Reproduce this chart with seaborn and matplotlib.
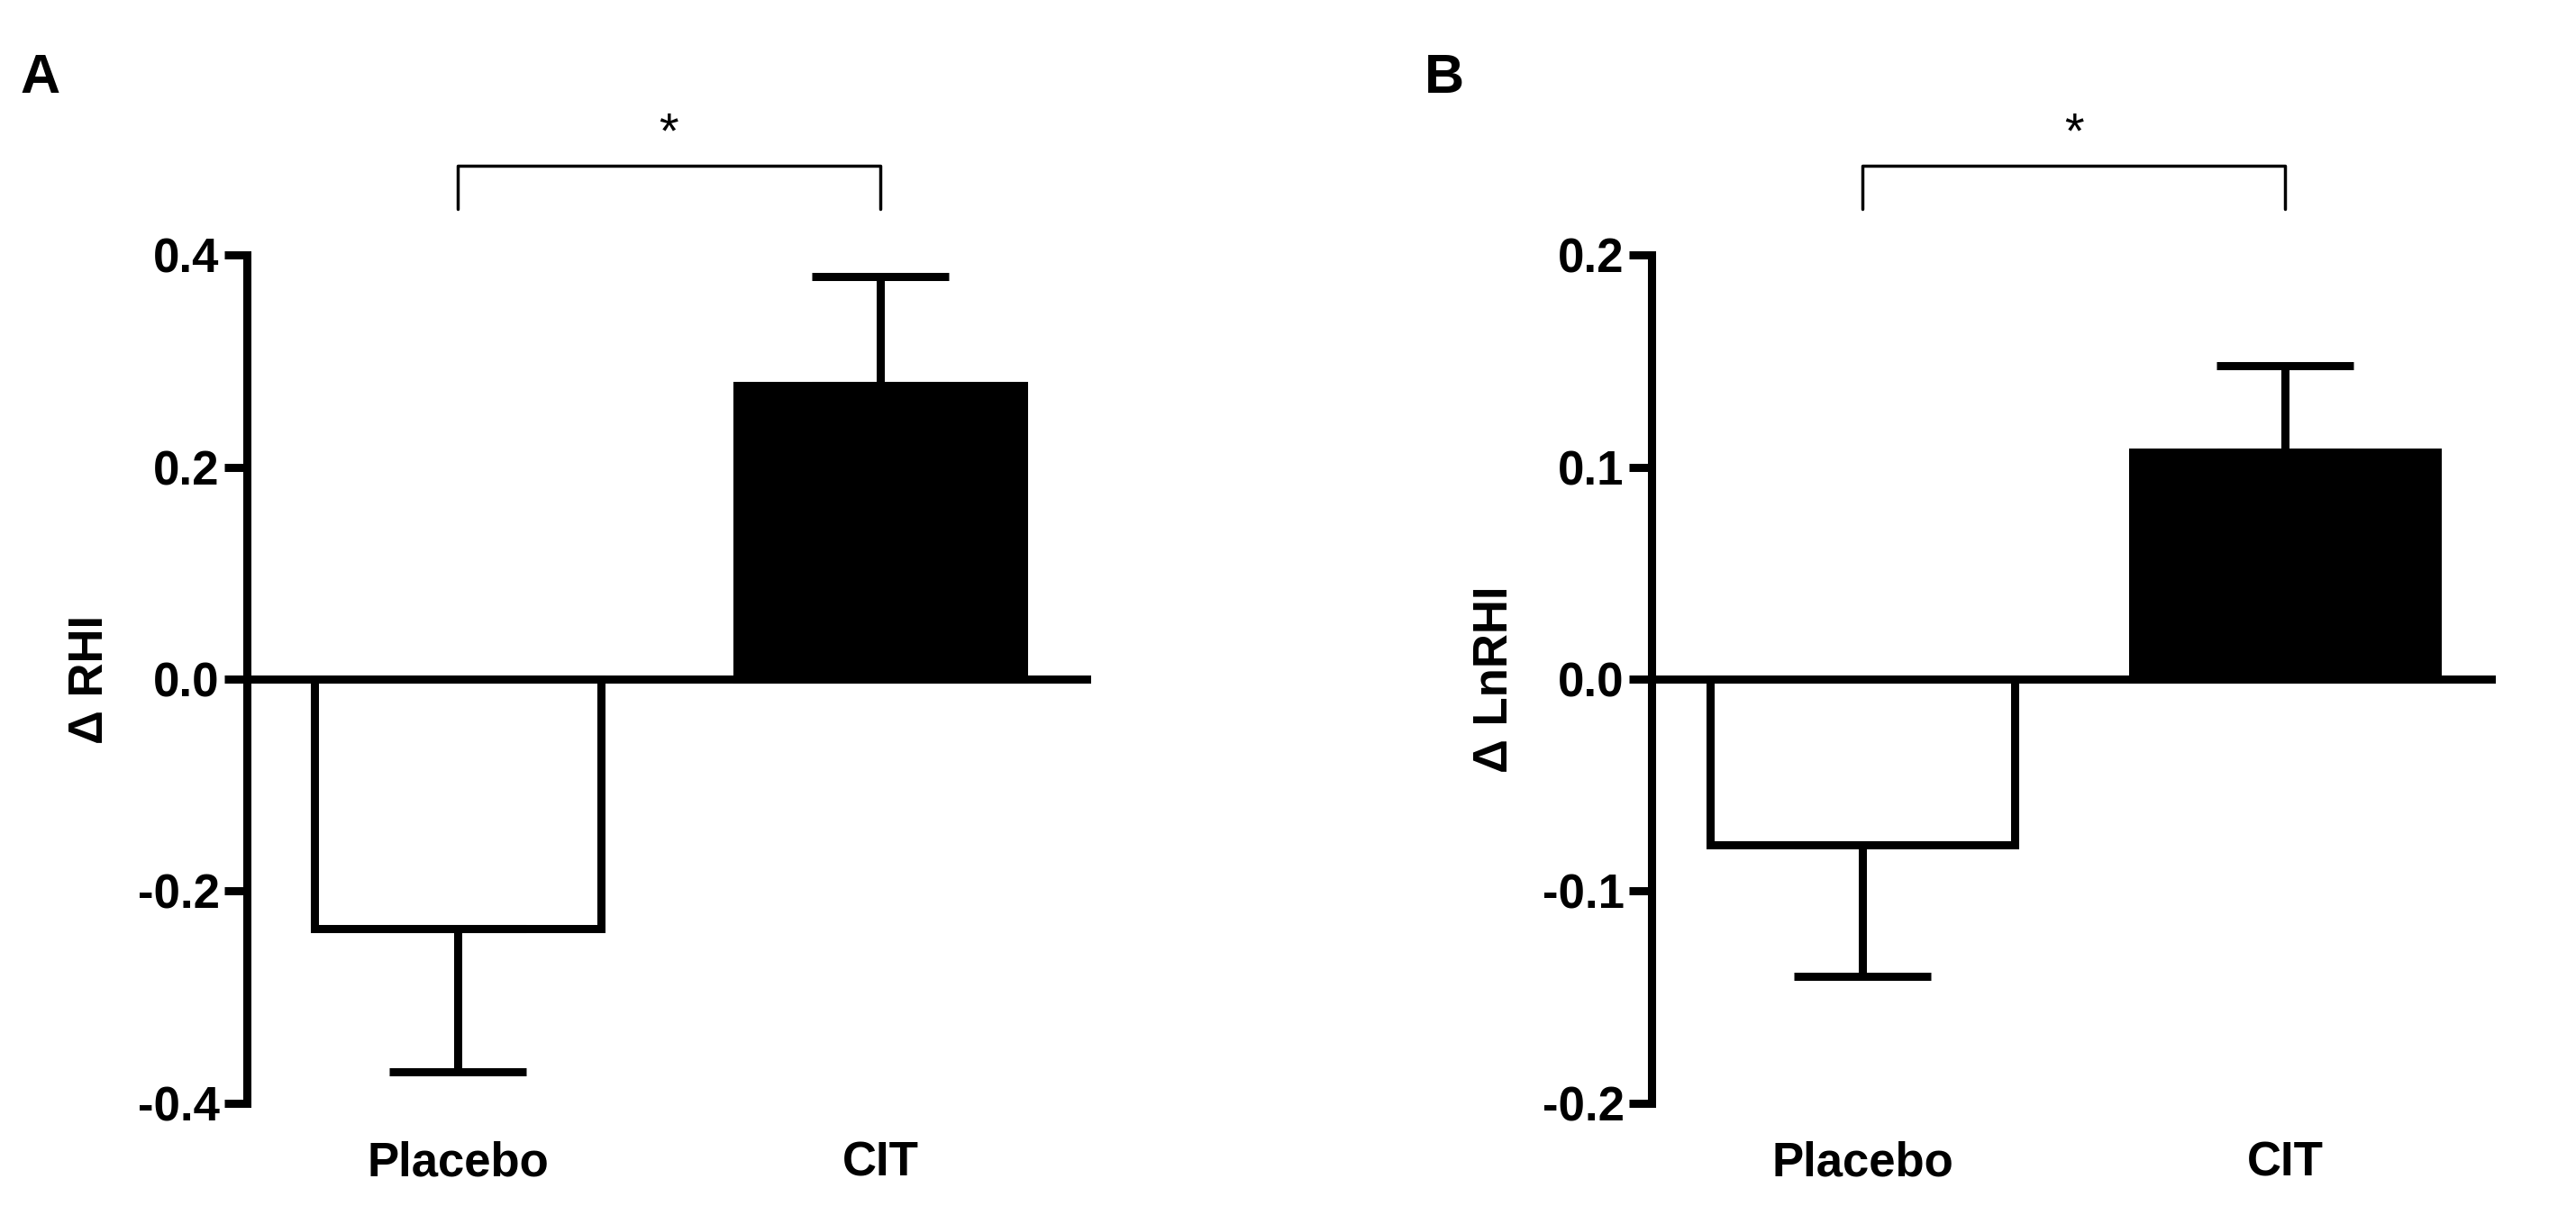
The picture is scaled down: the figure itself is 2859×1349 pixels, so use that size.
import matplotlib
matplotlib.use("Agg")
import matplotlib.pyplot as plt
import seaborn as sns
import pandas as pd

categories = ["Placebo", "CIT"]
rhi_mean = [-0.235, 0.277]
rhi_sem = [0.135, 0.103]
lnrhi_mean = [-0.078, 0.107]
lnrhi_sem = [0.062, 0.041]
panels = [("A", "Δ RHI", rhi_mean, rhi_sem, 0.4, [-0.4, -0.2, 0.0, 0.2, 0.4], 0.68),
          ("B", "Δ LnRHI", lnrhi_mean, lnrhi_sem, 0.2, [-0.2, -0.1, 0.0, 0.1, 0.2], 0.72)]

sns.set_style("ticks")
plt.rcParams['font.family'] = ['Liberation Sans', 'DejaVu Sans']
for k in ["text.color", "axes.labelcolor", "xtick.color", "ytick.color", "axes.edgecolor"]:
    plt.rcParams[k] = "black"
fig = plt.figure(figsize=(28.59, 13.49), dpi=100)
lefts = [0.0957, 0.641]
LW = 6.5
for (lab, ylab, mean, sem, lim, ticks, bw), left in zip(panels, lefts):
    ax = fig.add_axes([left, 0.092, 0.328, 0.698])
    df = pd.DataFrame({"group": categories, "val": mean})
    sns.barplot(data=df, x="group", y="val", hue="group", palette=["white", "black"],
                edgecolor="black", linewidth=LW, width=bw, legend=False, ax=ax, errorbar=None)
    for i, (m, s) in enumerate(zip(mean, sem)):
        lo = s if m < 0 else 0
        hi = s if m > 0 else 0
        ax.errorbar(i, m, yerr=[[lo], [hi]], color="black", lw=LW, capsize=55, capthick=LW, zorder=1)
    ax.set_xlim(-0.5, 1.5)
    ax.set_ylim(-lim, lim)
    ax.set_yticks(ticks)
    ax.set_yticklabels([f"{t:.1f}" for t in ticks])
    ax.axhline(0, color="black", lw=LW, zorder=5)
    sns.despine(ax=ax, bottom=True)
    ax.spines["left"].set_linewidth(LW)
    ax.spines["left"].set_color("black")
    ax.tick_params(axis="y", width=LW, length=18, labelsize=38, colors="black")
    ax.tick_params(axis="x", length=0, labelsize=38, pad=30, colors="black")
    for t in ax.get_xticklabels() + ax.get_yticklabels():
        t.set_fontweight("bold")
    ax.set_xlabel("")
    ax.set_ylabel(ylab, fontsize=38, fontweight="bold", labelpad=20, color="black")
    yb = lim * 1.21
    yt = lim * 1.11
    ax.plot([0, 0, 1, 1], [yt, yb, yb, yt], color="black", lw=2.5, clip_on=False)
    ax.text(0.5, yb + lim * 0.02, "*", ha="center", va="bottom", fontsize=40, color="black")
    fig.text(left - 0.088, 0.935, lab, fontsize=44, fontweight="bold", va="center", color="black")

fig.savefig("out.png", dpi=100)
